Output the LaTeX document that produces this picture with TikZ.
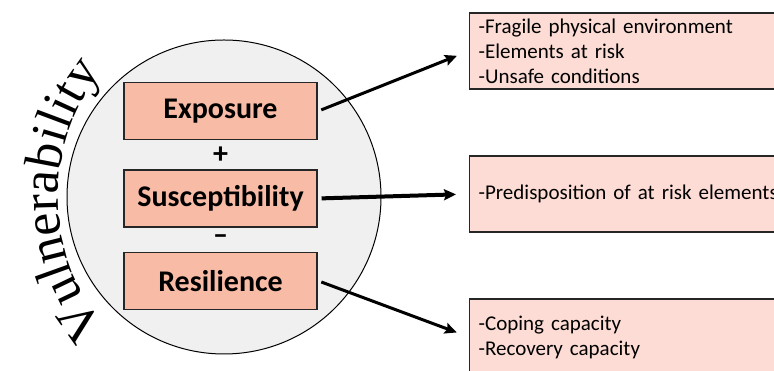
\documentclass[tikz,border=0pt]{standalone}
\usepackage{fontspec}
\setmainfont{Carlito}
\newfontfamily\vulfont{Liberation Serif}
\usetikzlibrary{positioning,calc,arrows.meta,decorations.text}
\definecolor{ringgray}{HTML}{F0F0F0}
\definecolor{factorfill}{HTML}{F8BBA6}
\definecolor{detailfill}{HTML}{FCDCD4}
\tikzset{
    factor box/.style={draw=black!85,line width=1.1pt,fill=factorfill,minimum width=193pt,minimum height=57pt,inner sep=0pt,font=\fontsize{30}{32}\selectfont\bfseries},
    detail box/.style={draw=black!85,line width=1.3pt,fill=detailfill,anchor=west,text width=310pt,inner xsep=9pt,minimum height=76pt,align=left,font=\fontsize{21}{25}\selectfont},
    sign/.style={font=\fontsize{30}{32}\selectfont\bfseries,inner sep=0pt},
    link/.style={line width=3pt,shorten <=4pt,shorten >=13pt,-{Stealth[length=12pt,width=11pt,inset=2pt]}}
}

\begin{document}
\begin{tikzpicture}[x=1pt,y=1pt]
        \useasboundingbox (0,0) rectangle (774,371);

        \node[circle,draw,line width=1pt,fill=ringgray,minimum size=314pt,inner sep=0pt] (C) at (224,174) {};
        % title bent round the left side of the ring
        \path[decorate,decoration={text along path,text align=center,
                text={|\vulfont\fontsize{52}{52}\selectfont|Vulnerability}}]
            (C.center) ++(252:166 and 186) arc[start angle=252,end angle=110,x radius=166,y radius=186];

        \node[factor box] (Sus) at (220.5,172.5) {Susceptibility};
        \node[factor box,above=29pt of Sus] (Exp) {Exposure};
        \node[factor box,below=24pt of Sus] (Res) {Resilience};
        \node[sign] (P) at ($(Exp.south)!0.5!(Sus.north)$) {+};
        \node[sign] (M) at ($(Sus.south)!0.5!(Res.north)$) {–};

        \node[detail box] (ExpD) at (469,320) {-Fragile physical environment\\-Elements at risk\\-Unsafe conditions};
        \node[detail box] (SusD) at (469,177) {-Predisposition of at risk elements};
        \node[detail box] (ResD) at (469,34) {-Coping capacity\\-Recovery capacity};

        \draw[link] (Exp.east) -- (ExpD.west);
        \draw[link,line width=4pt] (Sus.east) -- (SusD.west);
        \draw[link] (Res.east) -- (ResD.west);
    \end{tikzpicture}
\end{document}
